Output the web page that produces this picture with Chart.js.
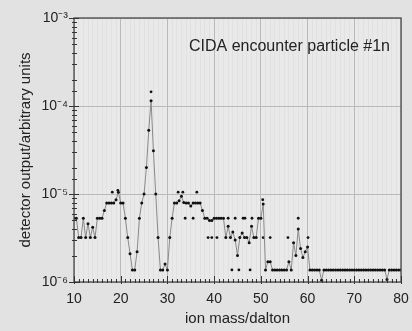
<!DOCTYPE html>
<html><head><meta charset="utf-8">
<script src="https://cdn.jsdelivr.net/npm/chart.js@4"></script>
<style>html,body{margin:0;padding:0;background:#e2e2e2}canvas{display:block}</style>
</head><body>
<canvas id="c" width="412" height="331"></canvas>
<script>
const masses = [10,10.5,11,11.5,12,12.5,13,13.5,14,14.5,15,15.5,16,16.5,17,17.5,18,18.5,19,19.5,
20,20.5,21,21.5,22,22.5,23,23.5,24,24.5,25,25.5,26,26.5,27,27.5,28,28.5,29,29.5,
30,30.5,31,31.5,32,32.5,33,33.5,34,34.5,35,35.5,36,36.5,37,37.5,38,38.5,39,39.5,
40,40.5,41,41.5,42,42.5,43,43.5,44,44.5,45,45.5,46,46.5,47,47.5,48,48.5,49,49.5,
50,50.5,51,51.5,52,52.5,53,53.5,54,54.5,55,55.5,56,56.5,57,57.5,58,58.5,59,59.5,
60,60.5,61,61.5,62,62.5,63,63.5,64,64.5,65,65.5,66,66.5,67,67.5,68,68.5,69,69.5,
70,70.5,71,71.5,72,72.5,73,73.5,74,74.5,75,75.5,76,76.5,77,77.5,78,78.5,79,79.5,80];
const signal = [5.3e-6,5.3e-6,3.2e-6,3.2e-6,5.3e-6,3.2e-6,4.6e-6,3.2e-6,4.2e-6,3.2e-6,5.3e-6,5.3e-6,5.3e-6,6.5e-6,7.9e-6,7.9e-6,7.9e-6,7.9e-6,8.6e-6,1.05e-5,
7.9e-6,7.9e-6,5.3e-6,3.2e-6,2.1e-6,1.37e-6,1.37e-6,2.2e-6,5.3e-6,7.9e-6,1.0e-5,2.0e-5,5.3e-5,1.15e-4,3.1e-5,1.0e-5,3.2e-6,1.37e-6,1.37e-6,1.6e-6,
1.37e-6,3.2e-6,5.3e-6,7.9e-6,7.9e-6,8.4e-6,9.4e-6,8.0e-6,7.9e-6,7.9e-6,7.3e-6,7.9e-6,7.9e-6,7.9e-6,7.9e-6,6.5e-6,5.3e-6,5.3e-6,5.0e-6,5.0e-6,
5.3e-6,5.3e-6,5.3e-6,5.3e-6,5.3e-6,3.2e-6,4.3e-6,3.2e-6,3.7e-6,3.0e-6,2.0e-6,3.2e-6,3.6e-6,3.2e-6,3.2e-6,2.8e-6,4.3e-6,3.2e-6,3.2e-6,5.3e-6,
5.3e-6,7.7e-6,1.37e-6,1.7e-6,1.7e-6,1.37e-6,1.37e-6,1.37e-6,1.37e-6,1.37e-6,1.37e-6,1.37e-6,1.7e-6,1.37e-6,2.8e-6,2.0e-6,4.0e-6,2.4e-6,1.9e-6,2.2e-6,
2.5e-6,1.37e-6,1.37e-6,1.37e-6,1.37e-6,1.37e-6,1.05e-6,1.37e-6,1.37e-6,1.37e-6,1.37e-6,1.37e-6,1.37e-6,1.37e-6,1.37e-6,1.37e-6,1.37e-6,1.37e-6,1.37e-6,1.37e-6,
1.37e-6,1.37e-6,1.37e-6,1.37e-6,1.37e-6,1.37e-6,1.37e-6,1.37e-6,1.37e-6,1.37e-6,1.37e-6,1.37e-6,1.37e-6,1.37e-6,1.07e-6,1.37e-6,1.37e-6,1.37e-6,1.37e-6,1.37e-6,1.37e-6];
const extraMasses = [26.5,18.2,19.4,32.3,33.3,36.3,33.8,35.5,38.7,39.5,40.6,43,44.5,46.2,46.6,48.1,43.8,45.3,47.7,50.5,52,55.8,60.1,58,50.4];
const extraValues = [1.45e-4,1.05e-5,1.1e-5,1.05e-5,1.05e-5,1.05e-5,5.3e-6,5.3e-6,3.2e-6,3.2e-6,3.2e-6,5.3e-6,5.3e-6,5.3e-6,5.3e-6,5.3e-6,1.37e-6,1.37e-6,1.37e-6,3.2e-6,3.2e-6,3.2e-6,3.2e-6,5.3e-6,8.6e-6];
const xTickLabels = ['10','20','30','40','50','60','70','80'];
const yTickLabels = ['10\u207B\u2076','10\u207B\u2075','10\u207B\u2074','10\u207B\u00B3'];
const titleText = 'CIDA encounter particle #1n';
const xTitle = 'ion mass/dalton';
const yTitle = 'detector output/arbitrary units';

const FONT = '"Liberation Sans", Arial, Helvetica, sans-serif';
const isDecade = v => Math.abs(Math.log10(v) - Math.round(Math.log10(v))) < 1e-9;

const bgPlugin = {
  id: 'bg',
  beforeDraw(chart) {
    const {ctx, chartArea: a} = chart;
    ctx.save();
    ctx.fillStyle = '#e2e2e2';
    ctx.fillRect(0, 0, chart.width, chart.height);
    ctx.fillStyle = '#e9e9e9';
    ctx.fillRect(a.left, a.top, a.right - a.left, a.bottom - a.top);
    ctx.restore();
  },
  afterDraw(chart) {
    const {ctx, chartArea: a, scales} = chart;
    ctx.save();
    ctx.strokeStyle = '#4a4a4a';
    ctx.lineWidth = 1.3;
    ctx.strokeRect(a.left, a.top, a.right - a.left, a.bottom - a.top);
    ctx.strokeStyle = '#333';
    ctx.lineWidth = 1;
    ctx.beginPath();
    scales.y.ticks.forEach(t => {
      const y = Math.round(scales.y.getPixelForValue(t.value)) + 0.5;
      const major = isDecade(t.value);
      ctx.moveTo(a.left - (major ? 5 : 2), y);
      ctx.lineTo(a.left + (major ? 5 : 3), y);
    });
    scales.x.ticks.forEach(t => {
      const x = Math.round(scales.x.getPixelForValue(t.value)) + 0.5;
      const major = t.value % 10 === 0;
      ctx.moveTo(x, a.bottom + (major ? 2 : 1));
      ctx.lineTo(x, a.bottom - (major ? 6 : 3));
    });
    ctx.stroke();
    ctx.fillStyle = '#222';
    ctx.font = '16px ' + FONT;
    ctx.textAlign = 'right';
    ctx.textBaseline = 'middle';
    ctx.fillText(titleText, a.right - 11, a.top + 29);
    ctx.restore();
  }
};

new Chart(document.getElementById('c'), {
  type: 'line',
  data: {
    datasets: [
      {
        data: masses.map((m, i) => ({x: m, y: signal[i]})),
        borderColor: '#8a8a8a',
        borderWidth: 1,
        pointRadius: 1.5,
        pointBackgroundColor: '#111',
        pointBorderWidth: 0,
        tension: 0
      },
      {
        type: 'scatter',
        data: extraMasses.map((m, i) => ({x: m, y: extraValues[i]})),
        pointRadius: 1.4,
        pointBackgroundColor: '#111',
        pointBorderWidth: 0,
        showLine: false
      }
    ]
  },
  options: {
    responsive: false,
    animation: false,
    devicePixelRatio: 1,
    layout: {padding: {left: 0, right: 11, top: 18, bottom: 0}},
    plugins: {legend: {display: false}, tooltip: {enabled: false}},
    scales: {
      x: {
        type: 'linear', min: 10, max: 80,
        afterFit: s => { s.height = 49; s.paddingLeft = 0; s.paddingRight = 0; },
        ticks: {
          stepSize: 1, autoSkip: false, maxRotation: 0, padding: 9,
          color: '#222', font: {family: FONT, size: 14},
          callback: v => (v % 10 === 0 ? xTickLabels[(v - 10) / 10] : '')
        },
        grid: {
          drawTicks: false,
          color: c => (c.tick && c.tick.value % 10 === 0 ? '#b9b9b9' : 'rgba(0,0,0,0.03)')
        },
        border: {display: false},
        title: {display: true, text: xTitle, color: '#222', font: {family: FONT, size: 15}, padding: {top: 0, bottom: 3}}
      },
      y: {
        type: 'logarithmic', min: 1e-6, max: 1e-3,
        afterFit: s => { s.width = 74; s.paddingTop = 0; s.paddingBottom = 0; },
        ticks: {
          autoSkip: false, padding: 6, color: '#222', font: {family: FONT, size: 14},
          callback: v => (isDecade(v) ? yTickLabels[Math.round(Math.log10(v)) + 6] : '')
        },
        grid: {
          drawTicks: false,
          color: c => (c.tick && isDecade(c.tick.value) ? '#b9b9b9' : 'rgba(0,0,0,0)')
        },
        border: {display: false},
        title: {display: true, text: yTitle, color: '#222', font: {family: FONT, size: 15}, padding: {top: 17, bottom: 0}}
      }
    }
  },
  plugins: [bgPlugin]
});
</script>
</body></html>
